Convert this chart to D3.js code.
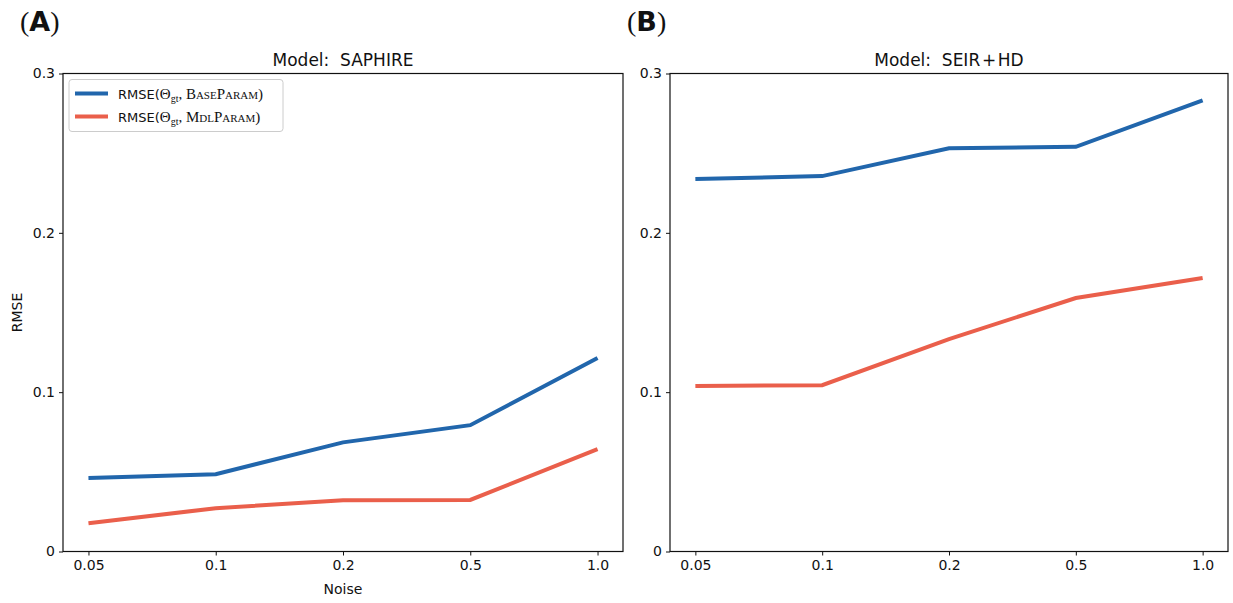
<!DOCTYPE html>
<html>
<head>
<meta charset="utf-8">
<script src="https://cdn.jsdelivr.net/npm/d3@7"></script>
<style>
  body { margin: 0; background: #fff; }
  text { font-family: "DejaVu Sans", sans-serif; fill: #111; white-space: pre; }
</style>
</head>
<body>
<div id="chart"></div>
<script>
const noiseLevels = ["0.05", "0.1", "0.2", "0.5", "1.0"];
const yTicks = [0, 0.1, 0.2, 0.3];

// panel A: SAPHIRE
const saphireBase = [0.0461, 0.0485, 0.0685, 0.0793, 0.1215];
const saphireMdl  = [0.0178, 0.0272, 0.0322, 0.0324, 0.0642];

// panel B: SEIR+HD
const seirBase = [0.2338, 0.2356, 0.2531, 0.2540, 0.2832];
const seirMdl  = [0.1038, 0.1044, 0.1333, 0.1591, 0.1717];

const blue = "#2166ac",
    red = "#ea5f4b";

const width = 1233,
    height = 603;

const svg = d3.select("#chart").append("svg")
    .attr("width", width)
    .attr("height", height);

const panels = [
  { label: "A", title: "Model:  SAPHIRE", base: saphireBase, mdl: saphireMdl,
    left: 63, right: 623, showY: true, showX: true, legend: true },
  { label: "B", title: "Model:  SEIR\u200a+\u200aHD", base: seirBase, mdl: seirMdl,
    left: 670, right: 1228, showY: false, showX: false, legend: false }
];

const plotTop = 73.5, plotBottom = 551.5;

const y = d3.scaleLinear()
    .domain([0, 0.3])
    .range([plotBottom, plotTop]);

panels.forEach(function(p) {
  // matplotlib style 5% margins on an index axis
  const xi = d3.scaleLinear()
      .domain([-0.2, noiseLevels.length - 1 + 0.2])
      .range([p.left, p.right]);

  const g = svg.append("g");

  // panel letter
  const lab = g.append("text")
      .attr("x", p.left - 43)
      .attr("y", 31)
      .style("font-size", "27px");
  lab.append("tspan").style("font-family", "'Liberation Serif', serif").style("font-size", "28px").text("(");
  lab.append("tspan").style("font-weight", "bold").text(p.label);
  lab.append("tspan").style("font-family", "'Liberation Serif', serif").style("font-size", "28px").text(")");

  // title
  g.append("text")
      .attr("x", (p.left + p.right) / 2)
      .attr("y", plotTop - 8)
      .attr("text-anchor", "middle")
      .style("font-size", "17px")
      .text(p.title);

  // axes
  const yAxis = d3.axisLeft(y)
      .tickValues(yTicks)
      .tickSize(4)
      .tickPadding(4)
      .tickFormat(function(d) { return d === 0 ? "0" : d3.format(".1f")(d); });

  g.append("g")
      .attr("transform", "translate(" + p.left + ",0)")
      .call(yAxis)
      .call(function(s) {
        s.select(".domain").remove();
        s.selectAll("text").style("font-size", "14px").style("font-family", "'DejaVu Sans', sans-serif").attr("fill", "#111");
        s.selectAll("line").attr("stroke", "#111");
      });

  const xAxis = d3.axisBottom(xi)
      .tickValues(d3.range(noiseLevels.length))
      .tickSize(4)
      .tickPadding(5)
      .tickFormat(function(i) { return noiseLevels[i]; });

  g.append("g")
      .attr("transform", "translate(0," + plotBottom + ")")
      .call(xAxis)
      .call(function(s) {
        s.select(".domain").remove();
        s.selectAll("text").style("font-size", "14px").style("font-family", "'DejaVu Sans', sans-serif").attr("fill", "#111");
        s.selectAll("line").attr("stroke", "#111");
      });

  // frame
  g.append("rect")
      .attr("x", p.left)
      .attr("y", plotTop)
      .attr("width", p.right - p.left)
      .attr("height", plotBottom - plotTop)
      .attr("fill", "none")
      .attr("stroke", "#111")
      .attr("stroke-width", 1.2);

  const line = d3.line()
      .x(function(d, i) { return xi(i); })
      .y(function(d) { return y(d); });

  g.append("path")
      .datum(p.base)
      .attr("d", line)
      .attr("fill", "none")
      .attr("stroke", blue)
      .attr("stroke-width", 4);

  g.append("path")
      .datum(p.mdl)
      .attr("d", line)
      .attr("fill", "none")
      .attr("stroke", red)
      .attr("stroke-width", 4);

  if (p.showY) {
    g.append("text")
        .attr("transform", "translate(" + 22 + "," + ((plotTop + plotBottom) / 2) + ") rotate(-90)")
        .attr("text-anchor", "middle")
        .style("font-size", "14px")
        .text("RMSE");
  }
  if (p.showX) {
    g.append("text")
        .attr("x", (p.left + p.right) / 2)
        .attr("y", 594)
        .attr("text-anchor", "middle")
        .style("font-size", "14px")
        .text("Noise");
  }

  if (p.legend) {
    const lg = g.append("g").attr("transform", "translate(" + (p.left + 6) + "," + (plotTop + 6) + ")");
    lg.append("rect")
        .attr("width", 214)
        .attr("height", 52)
        .attr("rx", 3)
        .attr("fill", "#fff")
        .attr("stroke", "#ccc");

    const entries = [
      { color: blue, name: "BaseParam", y: 14 },
      { color: red, name: "MdlParam", y: 37 }
    ];
    entries.forEach(function(e) {
      lg.append("line")
          .attr("x1", 6).attr("x2", 39)
          .attr("y1", e.y).attr("y2", e.y)
          .attr("stroke", e.color)
          .attr("stroke-width", 4);
      const t = lg.append("text")
          .attr("x", 49)
          .attr("y", e.y + 5)
          .style("font-size", "13px");
      t.append("tspan").text("RMSE(");
      t.append("tspan").style("font-family", "'Liberation Serif', serif").style("font-size", "15px").text("Θ");
      t.append("tspan").attr("dy", 3).style("font-family", "'Liberation Serif', serif").style("font-size", "10px").text("gt");
      t.append("tspan").attr("dy", -3).style("font-family", "'Liberation Serif', serif").style("font-size", "15px").text(", ");
      t.append("tspan").style("font-family", "'Liberation Serif', serif").style("font-variant", "small-caps").style("font-size", "15px").text(e.name);
      t.append("tspan").style("font-family", "'Liberation Serif', serif").style("font-size", "15px").text(")");
    });
  }
});
</script>
</body>
</html>
